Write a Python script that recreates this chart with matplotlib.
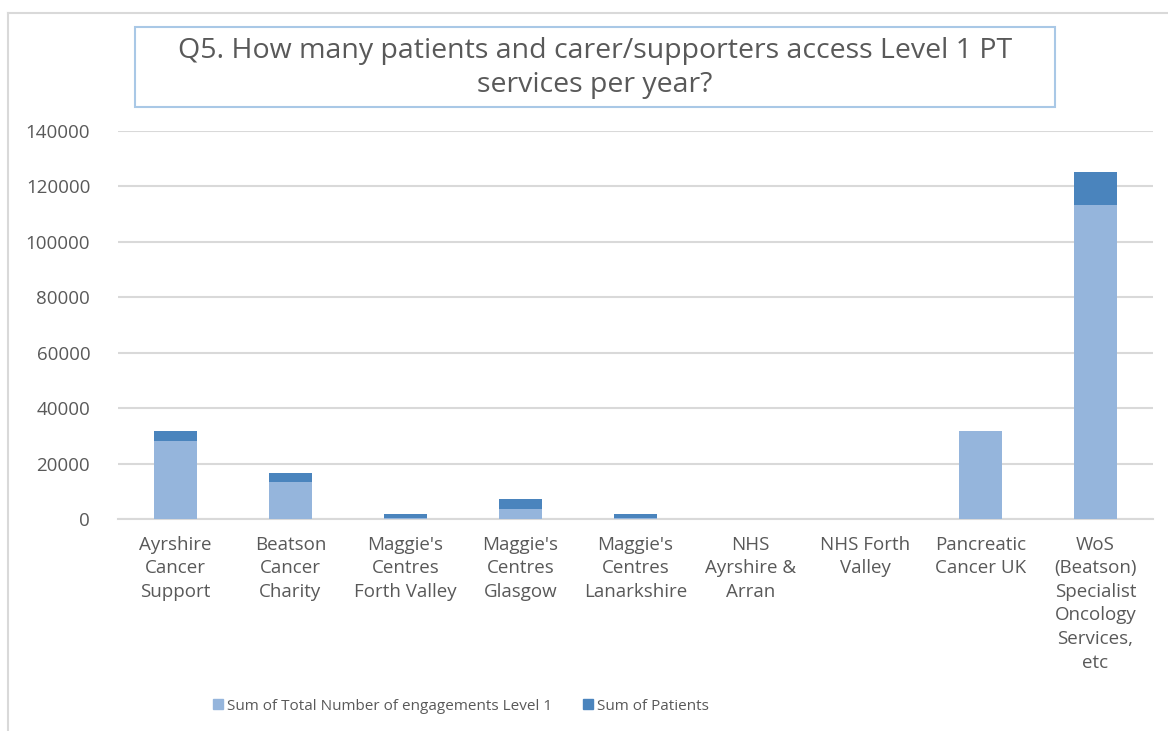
import matplotlib.pyplot as plt
from matplotlib.patches import Rectangle
import numpy as np

# 数据
categories = ["Ayrshire\nCancer\nSupport", "Beatson\nCancer\nCharity",
              "Maggie's\nCentres\nForth Valley", "Maggie's\nCentres\nGlasgow",
              "Maggie's\nCentres\nLanarkshire", "NHS\nAyrshire &\nArran",
              "NHS Forth\nValley", "Pancreatic\nCancer UK",
              "WoS\n(Beatson)\nSpecialist\nOncology\nServices,\netc"]
engagements = [28000, 13500, 200, 3700, 300, 0, 0, 31700, 113300]
patients = [3800, 3000, 1500, 3400, 1600, 0, 0, 0, 11800]
yticks = [0, 20000, 40000, 60000, 80000, 100000, 120000, 140000]

title = "Q5. How many patients and carer/supporters access Level 1 PT\nservices per year?"
legend_labels = ["Sum of Total Number of engagements Level 1", "Sum of Patients"]

LIGHT = "#95B5DC"
DARK = "#4A84BD"
GRID = "#D9D9D9"
TEXT = "#595959"

plt.rcParams["font.family"] = ["Open Sans", "DejaVu Sans"]

W, H = 1168, 731
fig = plt.figure(figsize=(W / 100, H / 100), dpi=100)

# 外框
fig.add_artist(plt.Line2D([8 / W, 8 / W], [0, 1 - 13 / H], color=GRID, lw=1.5))
fig.add_artist(plt.Line2D([8 / W, 1], [1 - 13 / H, 1 - 13 / H], color=GRID, lw=1.5))

# 绘图区
left, right, top, bottom = 118, 1153, 131, 519
ax = fig.add_axes([left / W, 1 - bottom / H, (right - left) / W, (bottom - top) / H])

x = np.arange(len(categories))
ax.bar(x, engagements, width=0.38, color=LIGHT, zorder=3)
ax.bar(x, patients, width=0.38, bottom=engagements, color=DARK, zorder=3)

ax.set_xlim(-0.5, len(categories) - 0.5)
ax.set_ylim(0, 140000)
ax.set_yticks(yticks)
ax.set_yticklabels([str(v) for v in yticks])
ax.set_xticks(x)
ax.set_xticklabels(categories, linespacing=1.4)
ax.tick_params(axis="y", length=0, pad=20, labelsize=13.5, colors=TEXT)
ax.tick_params(axis="x", length=0, pad=12, labelsize=13.5, colors=TEXT)

ax.grid(axis="y", color=GRID, lw=1.5, zorder=0)
for s in ["top", "right", "left"]:
    ax.spines[s].set_visible(False)
ax.spines["bottom"].set_color(GRID)
ax.spines["bottom"].set_linewidth(1.5)

# 标题框
fig.add_artist(Rectangle((135 / W, 1 - 107 / H), (1055 - 135) / W, 80 / H,
                         transform=fig.transFigure, fill=False,
                         edgecolor="#A9C8E6", lw=1.5))
fig.text(595 / W, 1 - 68 / H, title, ha="center", va="center",
         fontsize=20.5, color=TEXT, linespacing=1.3)

# 图例
handles = [Rectangle((0, 0), 1, 1, color=LIGHT), Rectangle((0, 0), 1, 1, color=DARK)]
fig.legend(handles, legend_labels, loc="center", bbox_to_anchor=(461 / W, 1 - 706 / H),
           ncol=2, frameon=False, fontsize=11, handlelength=0.65, handleheight=0.65,
           handletextpad=0.3, columnspacing=2.0, labelcolor=TEXT)

fig.savefig("out.png", dpi=100)
